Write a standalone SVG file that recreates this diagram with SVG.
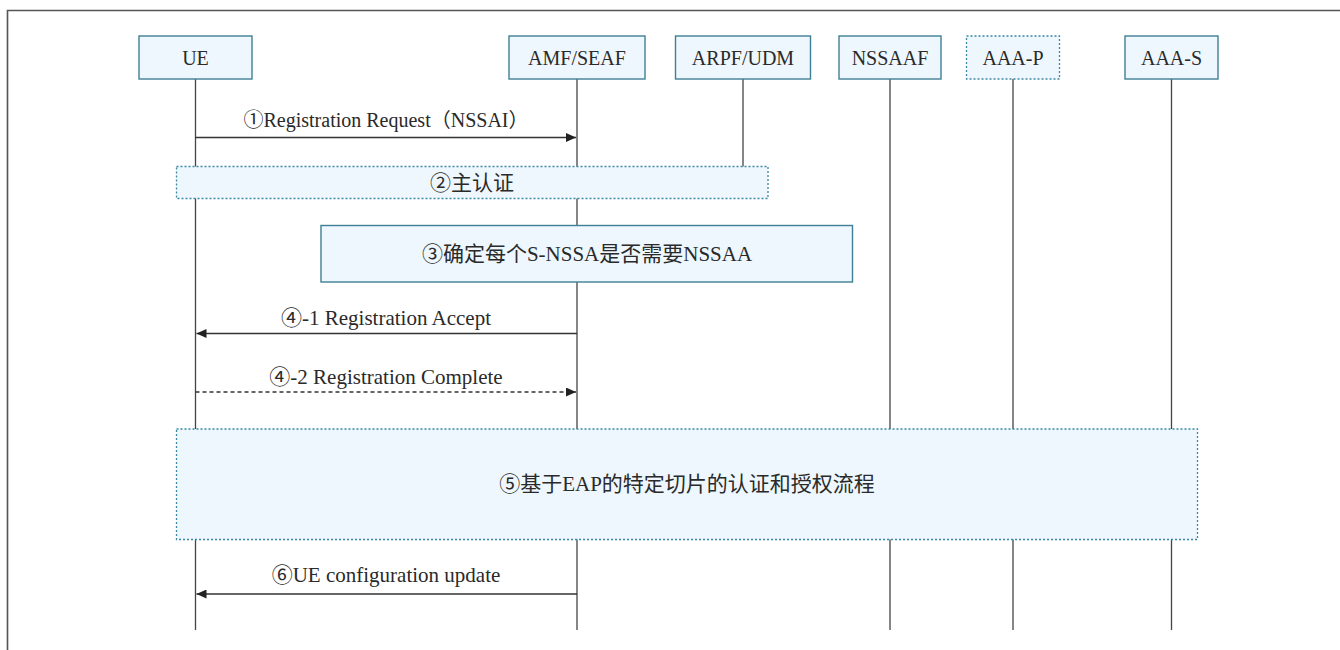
<svg xmlns="http://www.w3.org/2000/svg" width="1340" height="650" viewBox="0 0 1340 650">
<style>
.bg{fill:#ffffff}
.frame{stroke:#555;stroke-width:1.6;fill:none}
.node{fill:#eef7fd;stroke:#3f7f94;stroke-width:1.4}
.nodeDot{fill:#eef7fd;stroke:#3a88a3;stroke-width:1.3;stroke-dasharray:2 2}
.life{stroke:#444;stroke-width:1.3;fill:none}
.msg{stroke:#333;stroke-width:1.3;fill:none}
.dash{stroke-dasharray:4 3}
text{fill:#2a2a2a;text-anchor:middle}
</style>
<defs>
<marker id="ah" markerUnits="userSpaceOnUse" markerWidth="11" markerHeight="9" refX="10" refY="4.5" orient="auto">
<path d="M0,0 L10,4.5 L0,9 Z" fill="#222"/>
</marker>
</defs>
<rect class="bg" x="0" y="0" width="1340" height="650"/>
<path class="frame" d="M7.5,650 V10.5 H1340"/>

<g id="lifelines">
<line class="life" x1="195.5" y1="79" x2="195.5" y2="630"/>
<line class="life" x1="577" y1="79" x2="577" y2="630"/>
<line class="life" x1="743" y1="79" x2="743" y2="167"/>
<line class="life" x1="890" y1="79" x2="890" y2="630"/>
<line class="life" x1="1013" y1="79" x2="1013" y2="630"/>
<line class="life" x1="1171.5" y1="79" x2="1171.5" y2="630"/>
</g>

<g font-family="Liberation Serif, serif" font-size="20">
<g id="node-UE"><rect class="node" x="139" y="36" width="113" height="43"/><text x="195.5" y="65">UE</text></g>
<g id="node-AMF"><rect class="node" x="509" y="36" width="136" height="43"/><text x="577" y="65">AMF/SEAF</text></g>
<g id="node-ARPF"><rect class="node" x="675.5" y="36" width="135" height="43"/><text x="743" y="65">ARPF/UDM</text></g>
<g id="node-NSSAAF"><rect class="node" x="839" y="36" width="102" height="43"/><text x="890" y="65">NSSAAF</text></g>
<g id="node-AAAP"><rect class="nodeDot" x="966.5" y="36" width="93" height="43"/><text x="1013" y="65">AAA-P</text></g>
<g id="node-AAAS"><rect class="node" x="1125" y="36" width="93" height="43"/><text x="1171.5" y="65">AAA-S</text></g>
</g>

<g font-family="Liberation Serif, Noto Sans CJK SC, serif" font-size="21">
<g id="step2"><rect class="nodeDot" x="176.5" y="166.5" width="591.5" height="32"/><text x="472" y="182.5" dominant-baseline="central">②主认证</text></g>
<g id="step3"><rect class="node" x="321" y="225.5" width="531.5" height="56.5"/><text x="587" y="254" dominant-baseline="central">③确定每个S-NSSA是否需要NSSAA</text></g>
<g id="step5"><rect class="nodeDot" x="176.5" y="429" width="1021" height="110.5"/><text x="687" y="484" dominant-baseline="central">⑤基于EAP的特定切片的认证和授权流程</text></g>
</g>

<g id="connectors" font-family="Liberation Serif, Noto Sans CJK SC, serif" font-size="21">
<line class="msg" x1="195.5" y1="137.5" x2="576" y2="137.5" marker-end="url(#ah)"/>
<text x="386" y="126.5" font-size="20">①Registration Request（NSSAI）</text>
<line class="msg" x1="577" y1="333.5" x2="196.5" y2="333.5" marker-end="url(#ah)"/>
<text x="386" y="325">④-1 Registration Accept</text>
<line class="msg dash" x1="195.5" y1="392" x2="576" y2="392" marker-end="url(#ah)"/>
<text x="386" y="383.5">④-2 Registration Complete</text>
<line class="msg" x1="577" y1="594" x2="196.5" y2="594" marker-end="url(#ah)"/>
<text x="386" y="582">⑥UE configuration update</text>
</g>
</svg>
